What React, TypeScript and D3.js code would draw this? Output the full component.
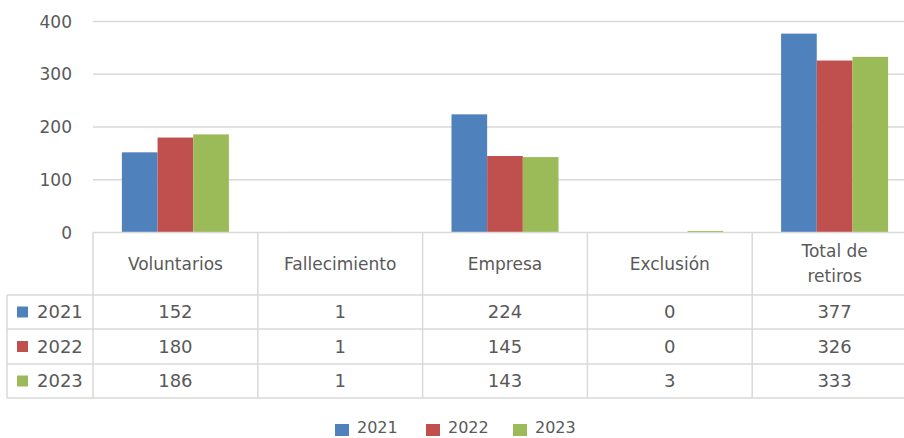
import React from "react";
import * as d3 from "d3";

const categories = ["Voluntarios", "Fallecimiento", "Empresa", "Exclusión", "Total de retiros"];
const categoryLines = [["Voluntarios"], ["Fallecimiento"], ["Empresa"], ["Exclusión"], ["Total de", "retiros"]];
const years = ["2021", "2022", "2023"];
const values2021 = [152, 1, 224, 0, 377];
const values2022 = [180, 1, 145, 0, 326];
const values2023 = [186, 1, 143, 3, 333];
const yTicks = [0, 100, 200, 300, 400];
const colors = ["#4F81BD", "#C0504D", "#9BBB59"];

const series = [values2021, values2022, values2023];

export default function App() {
  const W = 904, H = 438;
  const plotLeft = 93, plotRight = 917;
  const y = d3.scaleLinear().domain([0, 400]).range([232.5, 21.5]);
  const x = d3.scaleBand<string>().domain(categories).range([plotLeft, plotRight]).padding(0);
  const bw = x.bandwidth();
  const x1 = d3.scaleBand<string>().domain(years).range([0, bw]).paddingInner(0).paddingOuter(0.81);
  const rowY = [295, 329, 364, 398];
  const headerTop = 232.5;
  const tableLeft = 7;
  const grid = "#D9D9D9";
  const txt = "#595959";
  const font = "DejaVu Sans, Verdana, sans-serif";

  const legendItems = [
    { label: "2021", x: 335 },
    { label: "2022", x: 426 },
    { label: "2023", x: 513 },
  ];

  return (
    <svg width={W} height={H} style={{ position: "absolute", left: 0, top: 0, background: "#fff" }} fontFamily={font}>
      <rect x={0} y={0} width={W} height={H} fill="#fff" />
      {/* gridlines */}
      {yTicks.filter(t => t > 0).map(t => (
        <line key={t} x1={plotLeft} x2={plotRight} y1={y(t)} y2={y(t)} stroke={grid} strokeWidth={1.5} />
      ))}
      {/* y labels */}
      {yTicks.map(t => (
        <text key={t} x={72} y={y(t)} dy="0.36em" textAnchor="end" fontSize={17} fill={txt}>{t}</text>
      ))}
      {/* bars */}
      {series.map((vals, si) => (
        <g key={si} fill={colors[si]}>
          {categories.map((c, ci) => (
            <rect key={c} x={(x(c) as number) + (x1(years[si]) as number)} width={x1.bandwidth()}
              y={y(vals[ci])} height={y(0) - y(vals[ci])} />
          ))}
        </g>
      ))}
      {/* table lines */}
      <line x1={plotLeft} x2={plotRight} y1={headerTop} y2={headerTop} stroke={grid} strokeWidth={1.5} />
      {rowY.map((ry, i) => (
        <line key={i} x1={tableLeft} x2={plotRight} y1={ry} y2={ry} stroke={grid} strokeWidth={1.5} />
      ))}
      <line x1={tableLeft} x2={tableLeft} y1={rowY[0]} y2={rowY[3]} stroke={grid} strokeWidth={1.5} />
      {categories.map(c => (
        <line key={c} x1={x(c)} x2={x(c)} y1={headerTop} y2={rowY[3]} stroke={grid} strokeWidth={1.5} />
      ))}
      <line x1={plotRight} x2={plotRight} y1={headerTop} y2={rowY[3]} stroke={grid} strokeWidth={1.5} />
      {/* header text */}
      {categories.map((c, ci) => {
        const lines = categoryLines[ci];
        const cx = (x(c) as number) + bw / 2;
        const cy = (headerTop + rowY[0]) / 2;
        return (
          <text key={c} x={cx} textAnchor="middle" fontSize={17} fill={txt}>
            {lines.map((l, li) => (
              <tspan key={li} x={cx} y={cy + (li - (lines.length - 1) / 2) * 25} dy="0.36em">{l}</tspan>
            ))}
          </text>
        );
      })}
      {/* rows */}
      {series.map((vals, si) => {
        const cy = (rowY[si] + rowY[si + 1]) / 2;
        return (
          <g key={si}>
            <rect x={17} y={cy - 5.5} width={11} height={11} fill={colors[si]} />
            <text x={37} y={cy} dy="0.36em" fontSize={18} fill={txt}>{years[si]}</text>
            {categories.map((c, ci) => (
              <text key={c} x={(x(c) as number) + bw / 2} y={cy} dy="0.36em" textAnchor="middle" fontSize={18} fill={txt}>{vals[ci]}</text>
            ))}
          </g>
        );
      })}
      {/* legend */}
      {legendItems.map((l, i) => (
        <g key={l.label}>
          <rect x={l.x} y={424} width={14} height={12} fill={colors[i]} />
          <text x={l.x + 22} y={427.5} dy="0.36em" fontSize={16} fill={txt}>{l.label}</text>
        </g>
      ))}
    </svg>
  );
}
